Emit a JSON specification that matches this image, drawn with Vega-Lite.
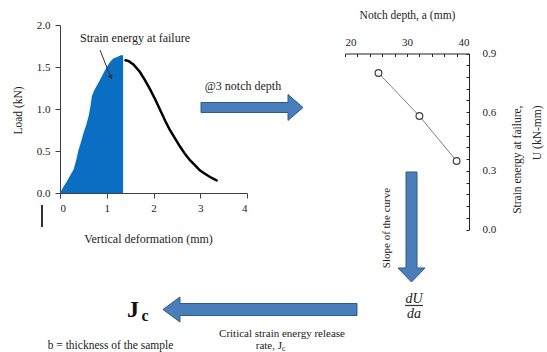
{
  "$schema": "https://vega.github.io/schema/vega-lite/v6.json",
  "width": 547,
  "height": 352,
  "autosize": {"type": "none"},
  "padding": 0,
  "background": "white",
  "config": {
    "view": {"stroke": null},
    "font": "Liberation Serif",
    "axis": {"grid": false, "labelFont": "Liberation Serif", "titleFont": "Liberation Serif", "titleFontWeight": "normal", "labelColor": "#222", "titleColor": "#222", "domainColor": "#404040", "tickColor": "#404040"}
  },
  "resolve": {"scale": {"x": "independent", "y": "independent"}},
  "layer": [
    {
      "encoding": {
        "x": {"field": "deformation", "type": "quantitative",
          "scale": {"domain": [0, 4], "range": [60, 247], "nice": false, "zero": false},
          "axis": {"orient": "bottom", "offset": -159, "values": [0, 1, 2, 3, 4], "labelFontSize": 11, "tickSize": 5, "labelPadding": 4,
            "title": "Vertical deformation (mm)", "titleFontSize": 12, "titleX": 148, "titleY": 45, "titleAlign": "center", "titleBaseline": "middle"}},
        "y": {"field": "load", "type": "quantitative",
          "scale": {"domain": [0, 2], "range": [193, 25], "nice": false, "zero": false},
          "axis": {"orient": "left", "offset": -60, "values": [0, 0.5, 1, 1.5, 2], "format": ".1f", "labelFontSize": 11, "tickSize": 5, "labelPadding": 5,
            "title": "Load (kN)", "titleFontSize": 11.5, "titleAngle": 270, "titleX": -42, "titleY": 110, "titleAlign": "center", "titleBaseline": "middle"}}
      },
      "layer": [
        {
          "data": {"values": [
            {"deformation": 0, "load": 0}, {"deformation": 0.07, "load": 0.07}, {"deformation": 0.14, "load": 0.13},
            {"deformation": 0.22, "load": 0.21}, {"deformation": 0.29, "load": 0.28}, {"deformation": 0.35, "load": 0.4},
            {"deformation": 0.39, "load": 0.5}, {"deformation": 0.45, "load": 0.61}, {"deformation": 0.5, "load": 0.71},
            {"deformation": 0.56, "load": 0.81}, {"deformation": 0.61, "load": 0.91}, {"deformation": 0.65, "load": 1.03},
            {"deformation": 0.68, "load": 1.15}, {"deformation": 0.73, "load": 1.22}, {"deformation": 0.78, "load": 1.27},
            {"deformation": 0.86, "load": 1.35}, {"deformation": 0.93, "load": 1.43}, {"deformation": 1.0, "load": 1.5},
            {"deformation": 1.07, "load": 1.56}, {"deformation": 1.14, "load": 1.6}, {"deformation": 1.22, "load": 1.62},
            {"deformation": 1.3, "load": 1.64}, {"deformation": 1.35, "load": 1.64}
          ]},
          "mark": {"type": "area", "color": "#0a6fc2", "opacity": 1}
        },
        {
          "data": {"values": [
            {"deformation": 1.4, "load": 1.58}, {"deformation": 1.47, "load": 1.57}, {"deformation": 1.57, "load": 1.53},
            {"deformation": 1.71, "load": 1.44}, {"deformation": 1.82, "load": 1.34}, {"deformation": 1.93, "load": 1.23},
            {"deformation": 2.04, "load": 1.11}, {"deformation": 2.14, "load": 0.99}, {"deformation": 2.25, "load": 0.86},
            {"deformation": 2.35, "load": 0.75}, {"deformation": 2.46, "load": 0.65}, {"deformation": 2.57, "load": 0.55},
            {"deformation": 2.68, "load": 0.46}, {"deformation": 2.78, "load": 0.39}, {"deformation": 2.89, "load": 0.33},
            {"deformation": 2.99, "load": 0.27}, {"deformation": 3.1, "load": 0.23}, {"deformation": 3.21, "load": 0.19},
            {"deformation": 3.35, "load": 0.15}
          ]},
          "mark": {"type": "line", "color": "black", "strokeWidth": 2.5, "strokeCap": "round"}
        },
        {
          "data": {"values": [{"deformation": 0.856, "load": 1.702, "deformation2": 1.07, "load2": 1.4}]},
          "mark": {"type": "rule", "color": "#333", "strokeWidth": 1},
          "encoding": {"x2": {"field": "deformation2"}, "y2": {"field": "load2"}}
        },
        {
          "data": {"values": [{"deformation": 1.089, "load": 1.379}]},
          "mark": {"type": "point", "shape": "triangle-up", "size": 30, "angle": 158, "filled": true, "color": "#333", "opacity": 1}
        },
        {
          "data": {"values": [{"deformation": 1.604, "load": 1.845, "label": "Strain energy at failure"}]},
          "mark": {"type": "text", "fontSize": 12, "align": "center", "baseline": "middle", "color": "#222"},
          "encoding": {"text": {"field": "label"}}
        },
        {
          "data": {"values": [{"deformation": -0.385, "load": -0.143, "load2": -0.405}]},
          "mark": {"type": "rule", "color": "#333", "strokeWidth": 2},
          "encoding": {"y2": {"field": "load2"}}
        },
        {
          "data": {"values": [{"deformation": 4.107, "load": 1.018}]},
          "mark": {"type": "point", "shape": "M-1,-0.098L0.706,-0.098L0.706,-0.255L1,0L0.706,0.255L0.706,0.098L-1,0.098Z", "size": 10404, "filled": true, "fill": "#4a7ebb", "stroke": "#2e5a8c", "strokeWidth": 1, "opacity": 1}
        },
        {
          "data": {"values": [{"deformation": 3.914, "load": 1.274, "label": "@3 notch depth"}]},
          "mark": {"type": "text", "fontSize": 12, "align": "center", "baseline": "middle", "color": "#222"},
          "encoding": {"text": {"field": "label"}}
        },
        {
          "data": {"values": [{"deformation": 4.278, "load": -1.387}]},
          "mark": {"type": "point", "shape": "M1,-0.062L-0.825,-0.062L-0.825,-0.129L-1,0L-0.825,0.129L-0.825,0.062L1,0.062Z", "size": 37636, "filled": true, "fill": "#4a7ebb", "stroke": "#2e5a8c", "strokeWidth": 1, "opacity": 1}
        },
        {
          "data": {"values": [{"deformation": 1.433, "load": -1.476, "label": "J"}]},
          "mark": {"type": "text", "fontSize": 24, "fontWeight": "bold", "align": "left", "baseline": "alphabetic", "color": "#111"},
          "encoding": {"text": {"field": "label"}}
        },
        {
          "data": {"values": [{"deformation": 1.743, "load": -1.518, "label": "c"}]},
          "mark": {"type": "text", "fontSize": 16, "fontWeight": "bold", "align": "left", "baseline": "alphabetic", "color": "#111"},
          "encoding": {"text": {"field": "label"}}
        },
        {
          "data": {"values": [{"deformation": 4.749, "load": -1.679, "label": "Critical strain energy release"}]},
          "mark": {"type": "text", "fontSize": 11, "align": "center", "baseline": "middle", "color": "#222"},
          "encoding": {"text": {"field": "label"}}
        },
        {
          "data": {"values": [{"deformation": 4.749, "load": -1.863, "label": "rate, J"}]},
          "mark": {"type": "text", "fontSize": 11, "align": "right", "baseline": "alphabetic", "color": "#222"},
          "encoding": {"text": {"field": "label"}}
        },
        {
          "data": {"values": [{"deformation": 4.749, "load": -1.877, "label": "c"}]},
          "mark": {"type": "text", "fontSize": 8, "align": "left", "baseline": "alphabetic", "color": "#222"},
          "encoding": {"text": {"field": "label"}}
        },
        {
          "data": {"values": [{"deformation": 1.08, "load": -1.855, "label": "b = thickness of the sample"}]},
          "mark": {"type": "text", "fontSize": 11.5, "align": "center", "baseline": "alphabetic", "color": "#222"},
          "encoding": {"text": {"field": "label"}}
        }
      ]
    },
    {
      "encoding": {
        "x": {"field": "notch", "type": "quantitative",
          "scale": {"domain": [20, 40], "range": [345, 469], "nice": false, "zero": false},
          "axis": {"orient": "top", "offset": -53.5, "values": [20, 22, 24, 26, 28, 30, 32, 34, 36, 38, 40],
            "labelExpr": "datum.value % 10 === 0 ? datum.label : ''", "labelFontSize": 11, "tickSize": -3, "labelPadding": 9,
            "domainColor": "#222", "tickColor": "#222",
            "title": "Notch depth, a (mm)", "titleFontSize": 11.5, "titleX": 407, "titleY": -38.5, "titleAlign": "center", "titleBaseline": "middle"}},
        "y": {"field": "energy", "type": "quantitative",
          "scale": {"domain": [0, 0.9], "range": [229.5, 53.5], "nice": false, "zero": false},
          "axis": {"orient": "right", "offset": -78, "values": [0, 0.06, 0.12, 0.18, 0.24, 0.3, 0.36, 0.42, 0.48, 0.54, 0.6, 0.66, 0.72, 0.78, 0.84, 0.9],
            "format": ".1f", "labelExpr": "round(datum.value * 100) % 30 === 0 ? datum.label : ''", "labelFontSize": 11, "tickSize": -3, "labelPadding": 16,
            "domainColor": "#222", "tickColor": "#222",
            "title": ["Strain energy at failure,", "U (kN-mm)"], "titleFontSize": 11.5, "titleAngle": 270, "titleX": 48, "titleY": 105, "titleAlign": "right", "titleBaseline": "middle", "titleLineHeight": 20}}
      },
      "layer": [
        {
          "data": {"values": [{"notch": 25.4, "energy": 0.8}, {"notch": 32.0, "energy": 0.58}, {"notch": 38.0, "energy": 0.35}]},
          "layer": [
            {"mark": {"type": "line", "color": "#7f7f7f", "strokeWidth": 1}},
            {"mark": {"type": "point", "filled": true, "fill": "white", "stroke": "#404040", "strokeWidth": 1.2, "size": 45, "opacity": 1}}
          ]
        },
        {
          "data": {"values": [{"notch": 30.726, "energy": 0.0128}]},
          "mark": {"type": "point", "shape": "M-0.1,-1L0.1,-1L0.1,0.745L0.245,0.745L0,1L-0.245,0.745L-0.1,0.745Z", "size": 12100, "filled": true, "fill": "#4a7ebb", "stroke": "#2e5a8c", "strokeWidth": 1, "opacity": 1}
        },
        {
          "data": {"values": [{"notch": 26.774, "energy": 0.0077, "label": "Slope of the curve"}]},
          "mark": {"type": "text", "fontSize": 11, "angle": 270, "align": "center", "baseline": "middle", "color": "#222"},
          "encoding": {"text": {"field": "label"}}
        },
        {
          "data": {"values": [{"notch": 31.129, "energy": -0.3733, "label": "dU"}, {"notch": 31.129, "energy": -0.45, "label": "da"}]},
          "mark": {"type": "text", "fontSize": 14, "fontStyle": "italic", "align": "center", "baseline": "alphabetic", "color": "#222"},
          "encoding": {"text": {"field": "label"}}
        },
        {
          "data": {"values": [{"notch": 29.68, "notch2": 32.58, "energy": -0.3886}]},
          "mark": {"type": "rule", "color": "#333", "strokeWidth": 1.2},
          "encoding": {"x2": {"field": "notch2"}}
        }
      ]
    }
  ]
}
